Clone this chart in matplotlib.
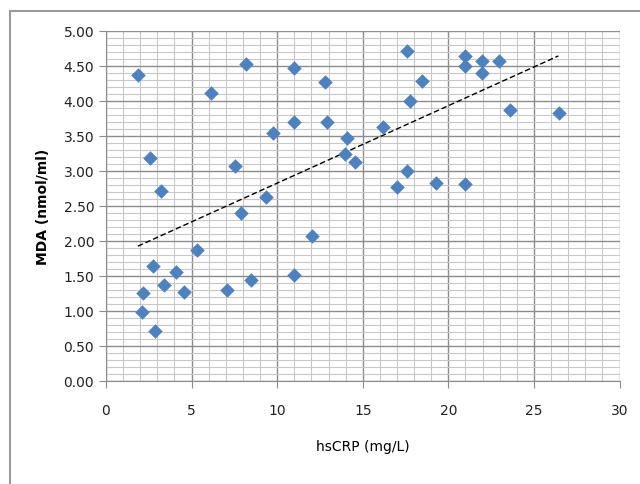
import matplotlib.pyplot as plt
import numpy as np
from matplotlib.patches import Rectangle
from matplotlib.ticker import MultipleLocator, FormatStrFormatter

# hsCRP (mg/L) vs MDA (nmol/ml)
hscrp = [1.89, 2.60, 3.21, 6.16, 7.51, 8.19, 9.78, 10.97, 10.97,
         2.11, 2.17, 2.77, 2.87, 3.38, 4.09, 4.57, 5.30, 7.08, 8.49,
         7.90, 9.37, 10.97, 12.06, 12.79, 12.89, 14.08, 13.98, 14.56,
         16.17, 17.58, 18.49, 17.75, 16.99, 17.58, 19.26, 20.98, 20.98,
         20.98, 21.98, 21.98, 22.97, 23.60, 26.47]
mda = [4.37, 3.18, 2.71, 4.11, 3.07, 4.53, 3.54, 4.46, 3.69,
       0.98, 1.25, 1.63, 0.71, 1.36, 1.55, 1.26, 1.86, 1.29, 1.43,
       2.40, 2.62, 1.51, 2.06, 4.26, 3.69, 3.47, 3.24, 3.12,
       3.63, 4.71, 4.28, 3.99, 2.76, 2.99, 2.83, 2.81, 4.64,
       4.50, 4.57, 4.40, 4.57, 3.86, 3.82]

# linear trendline end points as drawn in the reference
trend_x = [1.86, 26.43]
trend_y = [1.92, 4.64]

fig = plt.figure(figsize=(6.4, 4.85), dpi=100)
ax = fig.add_axes([0.1656, 0.2134, 0.8024, 0.7212])

# outer chart border (runs off the right and bottom edges)
fig.patches.append(Rectangle((10 / 640, -0.05), 1.0, 1 - 12 / 485 + 0.05,
                             transform=fig.transFigure, fill=False,
                             edgecolor='#9a9a9a', linewidth=1.5))

ax.set_xlim(0, 30)
ax.set_ylim(0, 5)
ax.xaxis.set_major_locator(MultipleLocator(5))
ax.xaxis.set_minor_locator(MultipleLocator(1))
ax.yaxis.set_major_locator(MultipleLocator(0.5))
ax.yaxis.set_minor_locator(MultipleLocator(0.1))
ax.yaxis.set_major_formatter(FormatStrFormatter('%.2f'))

ax.grid(which='major', color='#8c8c8c', linewidth=1.0)
ax.grid(which='minor', color='#c8c8c8', linewidth=0.8)
ax.set_axisbelow(True)

for s in ['top', 'right']:
    ax.spines[s].set_visible(False)
for s in ['left', 'bottom']:
    ax.spines[s].set_color('#8c8c8c')
ax.tick_params(which='major', direction='out', length=5, color='#8c8c8c',
               labelsize=10, labelcolor='#222222')
ax.tick_params(which='minor', length=0)
ax.tick_params(axis='x', pad=11)

ax.scatter(hscrp, mda, marker='D', s=55, color='#4f81bd', zorder=3, linewidths=0)
ax.plot(trend_x, trend_y, color='black', linestyle=(0, (4, 2)),
        linewidth=1.0, zorder=2)

ax.set_xlabel('hsCRP (mg/L)', fontsize=10, labelpad=16)
ax.set_ylabel('MDA (nmol/ml)', fontsize=10, fontweight='bold', labelpad=10)

fig.savefig('out.png', dpi=100)
